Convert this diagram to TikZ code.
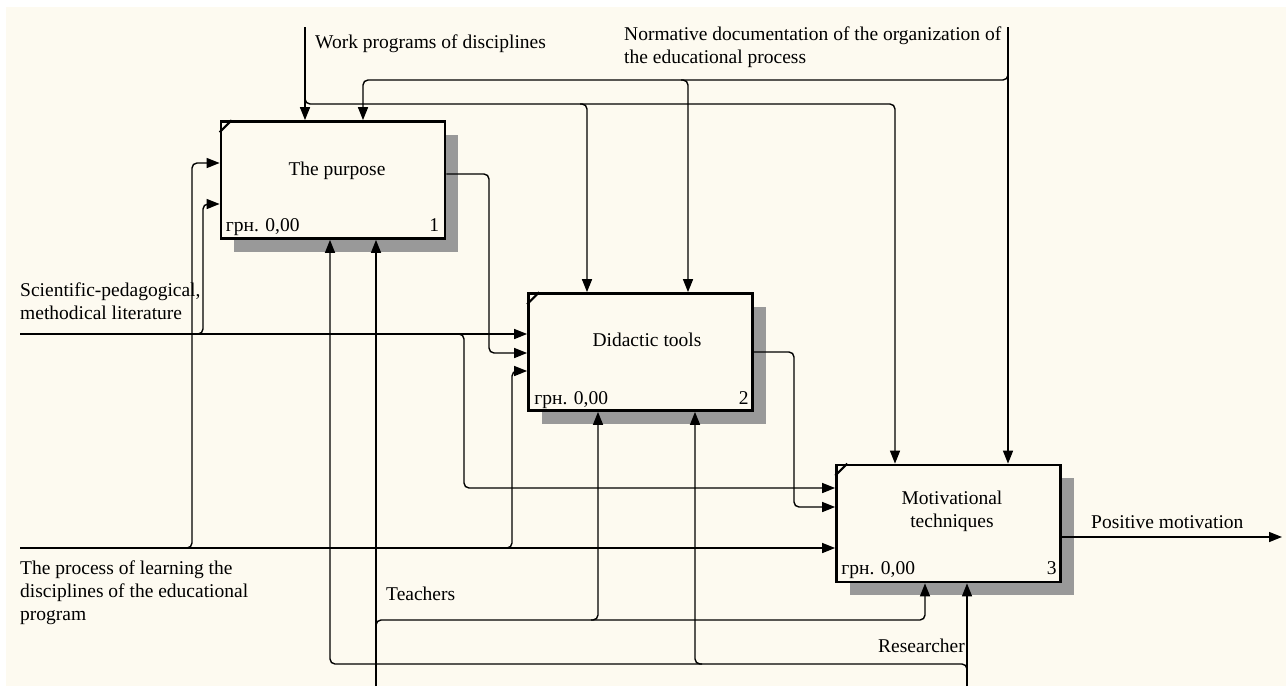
\documentclass[tikz,border=0pt]{standalone}
\usepackage{fontspec}
\setmainfont{Liberation Serif}
\usetikzlibrary{arrows.meta,shadows,calc}
\definecolor{cream}{RGB}{253,250,240}
\begin{document}
\begin{tikzpicture}[x=1pt,y=-1pt,
  conn/.style={line width=1.4pt, rounded corners=5pt},
  arr/.style={conn,-{Triangle[length=13pt,width=10pt]}},
  box/.style={draw, line width=2.7pt, fill=cream, inner sep=0pt,
    minimum width=224pt, minimum height=117pt,
    general shadow={fill=black!40, shadow xshift=13pt, shadow yshift=-13pt}},
  txt/.style={font=\fontsize{19.5}{23}\selectfont, inner sep=0pt},
  cornermark/.style={line width=2.2pt}
]
\useasboundingbox (0,0) rectangle (1286,686);
\fill[white] (0,0) rectangle (1286,686);
\fill[cream] (6,7) rectangle (1286,686);

% activity boxes
\node[box] (b1) at (333,180) {};
\node[box] (b2) at (640.5,352) {};
\node[box] (b3) at (948.5,523.5) {};
\foreach \b in {b1,b2,b3}{
  \draw[cornermark] ($(\b.north west)+(0,12)$) -- ($(\b.north west)+(12,0)$);
}

% box texts
\node[txt, anchor=base] (t1) at (337,175) {The purpose};
\node[txt, anchor=base west] (g1) at ($(b1.south west |- 0,231)+(6,0)$) {грн. 0,00};
\node[txt, anchor=base east] (n1) at ($(b1.south east |- 0,231)+(-7,0)$) {1};
\node[txt, anchor=base] (t2) at (647,346) {Didactic tools};
\node[txt, anchor=base west] (g2) at ($(b2.south west |- 0,404)+(7,0)$) {грн. 0,00};
\node[txt, anchor=base east] (n2) at ($(b2.south east |- 0,404)+(-5,0)$) {2};
\node[txt, anchor=base, align=center] (t3) at (952,527) {Motivational\\techniques};
\node[txt, anchor=base west] (g3) at ($(b3.south west |- 0,574)+(6,0)$) {грн. 0,00};
\node[txt, anchor=base east] (n3) at ($(b3.south east |- 0,574)+(-5,0)$) {3};

% external labels (base = baseline of the last line)
\node[txt, anchor=base west] (lwp) at (315,48) {Work programs of disciplines};
\node[txt, anchor=base west, align=left] (lnd) at (624,63) {Normative documentation of the organization of\\the educational process};
\node[txt, anchor=base west, align=left] (lsp) at (20,319) {Scientific-pedagogical,\\methodical literature};
\node[txt, anchor=base west, align=left] (lpl) at (20,620) {The process of learning the\\disciplines of the educational\\program};
\node[txt, anchor=base west] (ltc) at (386,600) {Teachers};
\node[txt, anchor=base east] (lrs) at (965,652) {Researcher};
\node[txt, anchor=base west] (lpo) at (1091,528) {Positive motivation};

% control: work programs
\coordinate (wp) at (305,27);
\draw[arr] (wp) -- (wp |- b1.north);
\draw[arr] (305,96) -- (305,104) -- (895,104) -- (895,0 |- b3.north);
\draw[arr] (580,104) -- (587,104) -- (587,0 |- b2.north);

% control: normative documentation
\coordinate (nd) at (1008,27);
\draw[arr] (nd) -- (nd |- b3.north);
\draw[arr] (1008,72) -- (1008,80) -- (363,80) -- (363,0 |- b1.north);
\draw[arr] (681,80) -- (688,80) -- (688,0 |- b2.north);

% input: scientific-pedagogical literature
\coordinate (sp) at (20,334);
\draw[arr] (sp) -- (sp -| b2.west);
\draw[arr] (196,334) -- (203,334) -- (203,204) -- (203,204 -| b1.west);
\draw[arr] (457,334) -- (464,334) -- (464,488) -- (464,488 -| b3.west);

% input: learning process
\coordinate (pl) at (20,548);
\draw[arr] (pl) -- (pl -| b3.west);
\draw[arr] (185,548) -- (192,548) -- (192,163) -- (192,163 -| b1.west);
\draw[arr] (505,548) -- (512,548) -- (512,371) -- (512,371 -| b2.west);

% outputs
\draw[arr] (b1.east |- 0,174) -- (489,174) -- (489,353) -- (489,353 -| b2.west);
\draw[arr] (b2.east) -- (794,352) -- (794,507) -- (794,507 -| b3.west);
\coordinate (po) at (1282,537);
\draw[arr] (b3.east |- po) -- (po);

% mechanism: teachers
\coordinate (tc) at (376,686);
\draw[arr] (tc) -- (tc |- b1.south);
\draw[arr] (376,628) -- (376,620) -- (925,620) -- (925,0 |- b3.south);
\draw[arr] (591,620) -- (598,620) -- (598,0 |- b2.south);

% mechanism: researcher
\coordinate (rs) at (967,686);
\draw[arr] (rs) -- (rs |- b3.south);
\draw[arr] (967,672) -- (967,664) -- (330,664) -- (330,0 |- b1.south);
\draw[arr] (702,664) -- (695,664) -- (695,0 |- b2.south);
\end{tikzpicture}
\end{document}
